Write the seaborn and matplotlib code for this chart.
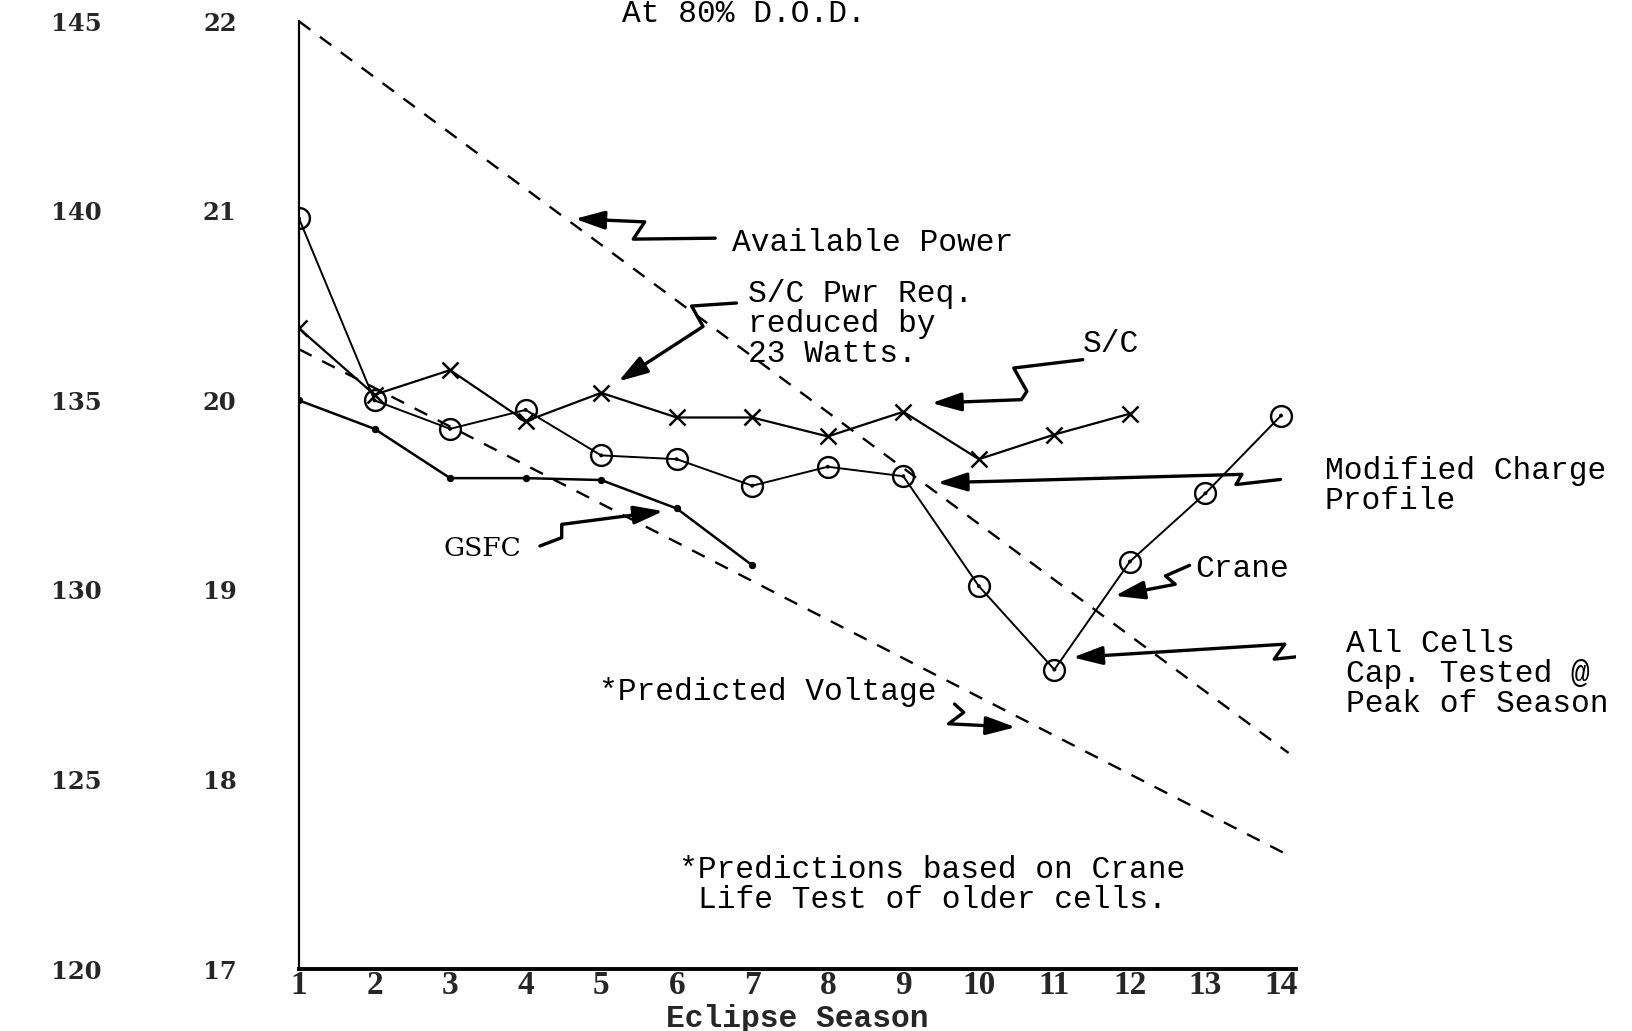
import numpy as np
import pandas as pd
import matplotlib
matplotlib.use("Agg")
import matplotlib.pyplot as plt
import seaborn as sns
from matplotlib.path import Path
from matplotlib.patches import FancyArrowPatch

# ---------------- data ----------------
seasons = list(range(1, 15))
voltage_ticks = [17, 18, 19, 20, 21, 22]
power_ticks = [120, 125, 130, 135, 140, 145]

sc_seasons = list(range(1, 13))
sc_values = [20.38, 20.03, 20.16, 19.89, 20.04, 19.91, 19.91, 19.81, 19.94, 19.69, 19.82, 19.93]

crane_seasons = list(range(1, 15))
crane_values = [20.96, 20.00, 19.85, 19.95, 19.71, 19.69, 19.55, 19.65, 19.60, 19.02, 18.58, 19.15, 19.51, 19.92]

gsfc_seasons = list(range(1, 8))
gsfc_values = [20.00, 19.85, 19.59, 19.59, 19.58, 19.43, 19.13]

available_x = [1.0, 14.1]
available_power = [22.0, 18.14]

predicted_x = [1.0, 14.1]
predicted_voltage = [20.27, 17.60]

# ---------------- style ----------------
sns.set_style("white")
plt.rcParams["font.family"] = ["Liberation Mono", "DejaVu Sans"]
TYPE = dict(family=["Liberation Mono", "DejaVu Sans"], fontsize=22.5, color="black")

fig = plt.figure(figsize=(16.33, 10.31), dpi=100)
ax = fig.add_axes([0.1831, 0.0601, 0.6106, 0.9192])

# dashed lines
sns.lineplot(x=available_x, y=available_power, ax=ax, color="black", lw=1.7,
             linestyle=(0, (6, 5)))
sns.lineplot(x=predicted_x, y=predicted_voltage, ax=ax, color="black", lw=1.7,
             linestyle=(0, (6, 5)))

# S/C series (x markers)
sns.lineplot(x=sc_seasons, y=sc_values, ax=ax, color="black", lw=1.6,
             marker="x", markersize=11, markeredgewidth=1.8, markeredgecolor="black")
# Crane series (open circles with centre dots)
sns.lineplot(x=crane_seasons, y=crane_values, ax=ax, color="black", lw=1.4,
             marker="o", markersize=15, markerfacecolor="none",
             markeredgecolor="black", markeredgewidth=1.7)
sns.scatterplot(x=crane_seasons, y=crane_values, ax=ax, color="black", s=8,
                edgecolor="none")
# GSFC series (small dots)
sns.lineplot(x=gsfc_seasons, y=gsfc_values, ax=ax, color="black", lw=1.8,
             marker="o", markersize=4.5, markeredgecolor="black")

# ---------------- axes ----------------
ax.set_xlim(1, 14.2)
ax.set_ylim(17, 22)
for s in ["top", "right"]:
    ax.spines[s].set_visible(False)
ax.spines["left"].set_linewidth(1.6)
ax.spines["bottom"].set_linewidth(2.8)
ax.spines["left"].set_color("black")
ax.spines["bottom"].set_color("black")

ax.set_xticks(seasons)
ax.set_xticklabels([str(s) for s in seasons],
                   fontfamily="Liberation Serif", fontweight="bold", fontsize=24)
ax.tick_params(axis="x", length=0, pad=1)
ax.set_yticks(voltage_ticks)
ax.set_yticklabels([str(v) for v in voltage_ticks],
                   fontfamily="DejaVu Serif", fontweight="bold", fontsize=17.5)
ax.tick_params(axis="y", length=0, pad=45)
ax.set_xlabel("Eclipse Season", fontfamily="Liberation Mono", fontweight="bold",
              fontsize=22.5, labelpad=2)
ax.set_ylabel("")

sec = ax.secondary_yaxis(-0.1976, functions=(lambda v: 5 * v + 35, lambda w: (w - 35) / 5))
sec.set_yticks(power_ticks)
sec.set_yticklabels([str(p) for p in power_ticks],
                    fontfamily="DejaVu Serif", fontweight="bold", fontsize=17.5)
sec.tick_params(axis="y", length=0, pad=0)
sec.spines["left"].set_visible(False)

# ---------------- annotations ----------------
ax.text(6.735, 20.832, "Available Power", ha="left", va="center", **TYPE)
ax.text(6.94, 20.402, "S/C Pwr Req.\nreduced by\n23 Watts.", ha="left", va="center",
        linespacing=1.0, **TYPE)
ax.text(11.38, 20.30, "S/C", ha="left", va="center", **TYPE)
ax.text(14.578, 19.547, "Modified Charge\nProfile", ha="left", va="center",
        linespacing=1.0, **TYPE)
ax.text(12.87, 19.11, "Crane", ha="left", va="center", **TYPE)
ax.text(14.854, 18.557, "All Cells\nCap. Tested @\nPeak of Season", ha="left",
        va="center", linespacing=1.0, **TYPE)
ax.text(3.433, 19.22, "GSFC", ha="center", va="center", family="DejaVu Serif",
        fontsize=19, color="black")
ax.text(4.97, 18.464, "*Predicted Voltage", ha="left", va="center", **TYPE)
ax.text(9.38, 17.441, "*Predictions based on Crane\nLife Test of older cells.",
        ha="center", va="center", multialignment="center", linespacing=1.0, **TYPE)
fig.text(0.4556, 1 - 22 / 1031, "At 80% D.O.D.", ha="center", va="baseline", **TYPE)

arrows = [
    [(6.51, 20.856), (5.425, 20.851), (5.577, 20.942), (4.653, 20.958)],
    [(6.79, 20.514), (6.197, 20.498), (6.349, 20.390), (5.228, 20.100)],
    [(11.375, 20.215), (10.462, 20.171), (10.636, 20.048), (10.564, 20.004), (9.373, 19.986)],
    [(13.994, 19.583), (13.403, 19.556), (13.483, 19.610), (10.278, 19.574), (9.45, 19.566)],
    [(12.79, 19.130), (12.47, 19.074), (12.60, 19.030), (11.80, 18.969)],
    [(14.53, 18.661), (13.91, 18.635), (14.05, 18.714), (11.243, 18.644)],
    [(4.19, 19.232), (4.478, 19.276), (4.478, 19.346), (5.824, 19.416)],
    [(9.678, 18.398), (9.80, 18.354), (9.60, 18.294), (10.487, 18.276)],
]
for verts in arrows:
    p = Path(verts)
    arr = FancyArrowPatch(path=p, arrowstyle="-|>,head_length=0.9,head_width=0.28",
                          mutation_scale=20, lw=2.4, color="black",
                          joinstyle="round", capstyle="round")
    ax.add_patch(arr)

fig.savefig("out.png", dpi=100, facecolor="white")
